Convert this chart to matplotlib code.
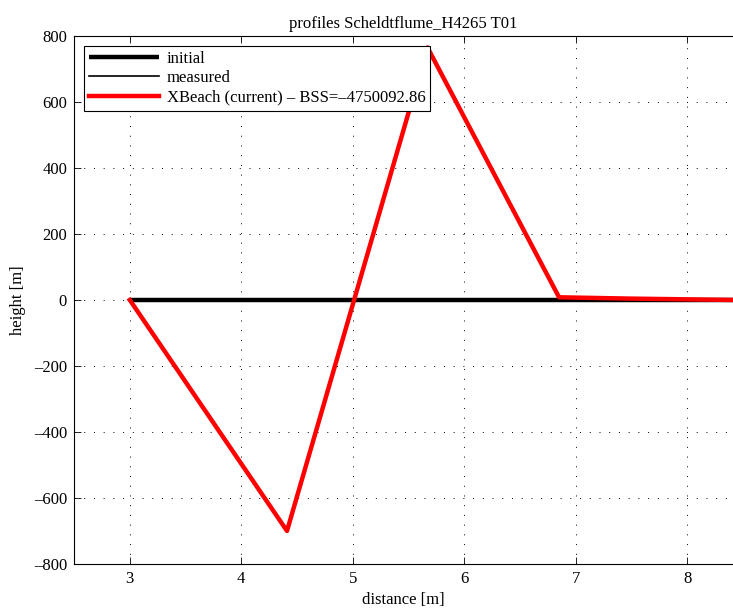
import matplotlib.pyplot as plt

plt.rcParams['font.family'] = ['Liberation Serif', 'DejaVu Serif']

# profile data
x_initial = [3.0, 8.41]
z_initial = [0, 0]
x_measured = [3.0, 8.41]
z_measured = [0, 0]
x_xbeach = [3.0, 4.41, 5.67, 6.85, 7.5, 8.41]
z_xbeach = [0, -700, 765, 8, 4, 0]
bss = -4750092.86

fig = plt.figure(figsize=(7.33, 6.09), dpi=100)
ax = fig.add_axes([0.101, 0.074, 0.899, 0.867])

ax.plot(x_initial, z_initial, color='k', lw=3.2, label='initial', solid_capstyle='butt')
ax.plot(x_measured, z_measured, color='k', lw=1.2, label='measured')
ax.plot(x_xbeach, z_xbeach, color='#ff0000', lw=3.2,
        label='XBeach (current) \u2013 BSS=\u2013%.2f' % abs(bss))

ax.set_xlim(2.5, 8.41)
ax.set_ylim(-800, 800)
ax.set_xticks(range(3, 9))
ax.set_yticks(range(-800, 801, 200))
ax.yaxis.set_major_formatter(plt.FuncFormatter(lambda v, p: ('\u2013%d' % -v) if v < 0 else '%d' % v))
ax.tick_params(direction='in', top=True, right=False, labelsize=12, length=5, width=0.6, pad=5)
ax.grid(True, color='k', linestyle=(0, (1, 9)), linewidth=0.7)
ax.spines['right'].set_visible(False)
for s in ['left', 'bottom', 'top']:
    ax.spines[s].set_linewidth(0.8)

ax.set_xlabel('distance [m]', fontsize=12, labelpad=4)
ax.set_ylabel('height [m]', fontsize=12, labelpad=6)
ax.set_title('profiles Scheldtflume_H4265 T01', fontsize=12, pad=6)

leg = ax.legend(loc='upper left', fontsize=12, fancybox=False, framealpha=1,
                edgecolor='k', borderaxespad=0.6, handlelength=4.2,
                handletextpad=0.45, labelspacing=0.2, borderpad=0.3)
leg.get_frame().set_linewidth(0.8)

fig.savefig('out.png', dpi=100)
